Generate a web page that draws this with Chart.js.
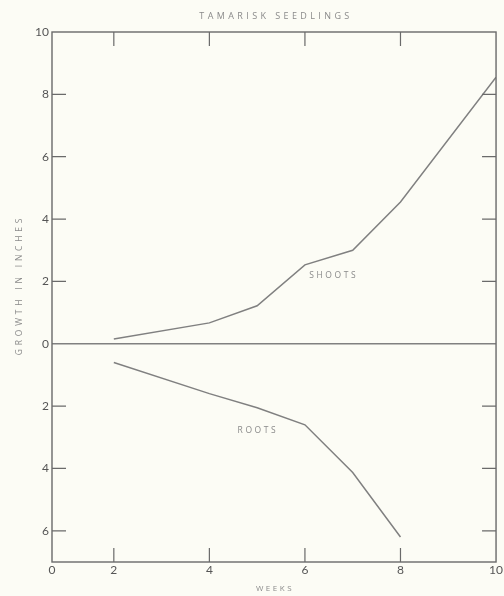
<!DOCTYPE html>
<html>
<head>
<meta charset="utf-8">
<script src="https://cdn.jsdelivr.net/npm/chart.js@4"></script>
<style>
  html, body { margin: 0; padding: 0; background: #fcfcf5; }
  #wrap { width: 504px; height: 596px; position: relative; }
</style>
</head>
<body>
<div id="wrap"><canvas id="c"></canvas></div>
<script>
// Data
const weeks = [2, 4, 5, 6, 7, 8, 10];
const shoots = [0.15, 0.67, 1.22, 2.53, 3.0, 4.55, 8.55];
const rootWeeks = [2, 4, 5, 6, 7, 8];
const roots = [-0.6, -1.6, -2.05, -2.6, -4.13, -6.2];
const xTickValues = [2, 4, 6, 8, 10];
const yTickValues = [-6, -4, -2, 0, 2, 4, 6, 8, 10];
const titleText = 'TAMARISK SEEDLINGS';
const xTitle = 'WEEKS';
const yTitle = 'GROWTH IN INCHES';
const seriesLabels = ['SHOOTS', 'ROOTS'];

const X_MIN = 0.706; // axis start (labelled 0 — original graph compresses 0–2)
const INK = '#6a6a6a';
const LINE = '#808080';
const TEXT = '#8a8a8a';

const decor = {
  id: 'decor',
  afterDraw(chart) {
    const ctx = chart.ctx;
    const a = chart.chartArea;
    const xs = chart.scales.x, ys = chart.scales.y;
    ctx.save();
    // zero line
    ctx.strokeStyle = LINE;
    ctx.lineWidth = 1.3;
    const y0 = ys.getPixelForValue(0);
    ctx.beginPath(); ctx.moveTo(a.left, y0); ctx.lineTo(a.right, y0); ctx.stroke();
    // frame
    ctx.strokeStyle = INK;
    ctx.lineWidth = 1.4;
    ctx.strokeRect(a.left, a.top, a.right - a.left, a.bottom - a.top);
    // inward ticks
    const L = 14;
    ctx.lineWidth = 1.2;
    ctx.beginPath();
    xTickValues.forEach(v => {
      if (v >= 10) return;
      const px = xs.getPixelForValue(v);
      ctx.moveTo(px, a.bottom); ctx.lineTo(px, a.bottom - L);
      ctx.moveTo(px, a.top); ctx.lineTo(px, a.top + L);
    });
    yTickValues.forEach(v => {
      if (v === 10 || v === 0) return;
      const py = ys.getPixelForValue(v);
      ctx.moveTo(a.left, py); ctx.lineTo(a.left + L, py);
      ctx.moveTo(a.right, py); ctx.lineTo(a.right - L, py);
    });
    ctx.stroke();
    // texts
    ctx.fillStyle = TEXT;
    ctx.textBaseline = 'middle';
    ctx.textAlign = 'center';
    ctx.font = '9px "Open Sans", sans-serif';
    ctx.letterSpacing = '3.4px';
    ctx.fillText(titleText, 276, 16);
    ctx.font = '8px "Open Sans", sans-serif';
    ctx.letterSpacing = '2.5px';
    ctx.fillText(xTitle, 275, 589);
    ctx.save();
    ctx.translate(20, 285);
    ctx.rotate(-Math.PI / 2);
    ctx.font = '8.5px "Open Sans", sans-serif';
    ctx.letterSpacing = '3.8px';
    ctx.fillText(yTitle, 0, 0);
    ctx.restore();
    ctx.textAlign = 'left';
    ctx.font = '8.5px "Open Sans", sans-serif';
    ctx.letterSpacing = '2.6px';
    ctx.fillText(seriesLabels[0], xs.getPixelForValue(6.09), ys.getPixelForValue(2.18));
    ctx.fillText(seriesLabels[1], xs.getPixelForValue(4.59), ys.getPixelForValue(-2.79));
    ctx.restore();
  }
};

const bg = {
  id: 'bg',
  beforeDraw(chart) {
    const ctx = chart.ctx;
    ctx.save();
    ctx.fillStyle = '#fcfcf5';
    ctx.fillRect(0, 0, chart.width, chart.height);
    ctx.restore();
  }
};

new Chart(document.getElementById('c'), {
  type: 'line',
  data: {
    datasets: [
      { label: seriesLabels[0], data: weeks.map((w, i) => ({ x: w, y: shoots[i] })),
        borderColor: LINE, borderWidth: 1.5, pointRadius: 0, tension: 0, fill: false },
      { label: seriesLabels[1], data: rootWeeks.map((w, i) => ({ x: w, y: roots[i] })),
        borderColor: LINE, borderWidth: 1.5, pointRadius: 0, tension: 0, fill: false }
    ]
  },
  options: {
    responsive: true,
    maintainAspectRatio: false,
    animation: false,
    layout: { padding: { top: 32, right: 7, left: 0, bottom: 0 } },
    plugins: { legend: { display: false }, tooltip: { enabled: false }, title: { display: false } },
    scales: {
      x: {
        type: 'linear', min: X_MIN, max: 10,
        afterBuildTicks: s => { s.ticks = [X_MIN, ...xTickValues].map(v => ({ value: v })); },
        afterFit: s => { s.height = 34; },
        grid: { display: false, drawTicks: false },
        border: { display: false },
        ticks: {
          padding: 1, color: '#555', font: { family: 'Lato, "Open Sans", sans-serif', size: 12 },
          autoSkip: false, maxRotation: 0,
          callback: v => (Math.abs(v - X_MIN) < 1e-6 ? '0' : String(v))
        }
      },
      y: {
        type: 'linear', min: -7, max: 10,
        afterBuildTicks: s => { s.ticks = yTickValues.map(v => ({ value: v })); },
        afterFit: s => { s.width = 52; },
        grid: { display: false, drawTicks: false },
        border: { display: false },
        ticks: {
          padding: 3, color: '#555', font: { family: 'Lato, "Open Sans", sans-serif', size: 12 },
          autoSkip: false,
          callback: v => String(Math.abs(v))
        }
      }
    }
  },
  plugins: [bg, decor]
});
</script>
</body>
</html>
